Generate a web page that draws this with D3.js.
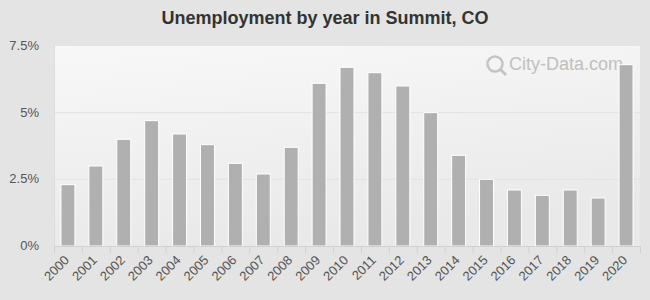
<!DOCTYPE html>
<html>
<head>
<meta charset="utf-8">
<script src="https://cdn.jsdelivr.net/npm/d3@7"></script>
<style>
  body { margin: 0; background: #e4e4e4; }
  svg { display: block; font-family: "Liberation Sans", Arial, sans-serif; }
</style>
</head>
<body>
<div id="chart"></div>
<script>
var years = ["2000","2001","2002","2003","2004","2005","2006","2007","2008","2009","2010",
             "2011","2012","2013","2014","2015","2016","2017","2018","2019","2020"];
var rates = [2.3, 3.0, 4.0, 4.7, 4.2, 3.8, 3.1, 2.7, 3.7, 6.1, 6.7,
             6.5, 6.0, 5.0, 3.4, 2.5, 2.1, 1.9, 2.1, 1.8, 6.8];
var yTicks = [0, 2.5, 5, 7.5];
var yTickLabels = ["0%", "2.5%", "5%", "7.5%"];

var W = 650, H = 300;
var margin = {top: 46, right: 10, bottom: 54, left: 54},
    width = W - margin.left - margin.right,
    height = H - margin.top - margin.bottom;

var svg = d3.select("#chart").append("svg")
  .attr("width", W)
  .attr("height", H);

// plot background gradient
var grad = svg.append("defs").append("linearGradient")
  .attr("id", "bg").attr("x1", 0).attr("y1", 0).attr("x2", 0.3).attr("y2", 1);
grad.append("stop").attr("offset", "0%").attr("stop-color", "#f8f8f8");
grad.append("stop").attr("offset", "100%").attr("stop-color", "#e9e9e9");

svg.append("rect").attr("width", W).attr("height", H).attr("fill", "#e4e4e4");

svg.append("text")
  .attr("x", W / 2).attr("y", 24)
  .attr("text-anchor", "middle")
  .attr("font-size", 18).attr("font-weight", "bold")
  .attr("fill", "#333")
  .text("Unemployment by year in Summit, CO");

var g = svg.append("g")
  .attr("transform", "translate(" + margin.left + "," + margin.top + ")");

g.append("rect")
  .attr("width", width).attr("height", height)
  .attr("fill", "url(#bg)");

var x = d3.scaleBand().domain(years).range([0, width]).paddingInner(0.5).paddingOuter(0.25);
var y = d3.scaleLinear().domain([0, 7.5]).range([height, 0]);

// gridlines
g.selectAll(".grid").data(yTicks.slice(1, 3)).join("line")
  .attr("x1", 0).attr("x2", width)
  .attr("y1", d => y(d)).attr("y2", d => y(d))
  .attr("stroke", "#e2e2e2");

// left edge
g.append("line").attr("x1", 0.5).attr("x2", 0.5).attr("y1", 0).attr("y2", height)
  .attr("stroke", "#dddddd");

// watermark
var wm = g.append("g").attr("transform", "translate(441,18)");
wm.append("circle").attr("cx", 0).attr("cy", 0).attr("r", 7.5)
  .attr("fill", "none").attr("stroke", "#c4c4c4").attr("stroke-width", 2.5);
wm.append("line").attr("x1", 5).attr("y1", 5).attr("x2", 11).attr("y2", 11)
  .attr("stroke", "#c4c4c4").attr("stroke-width", 3);
wm.append("text").attr("x", 14).attr("y", 6)
  .attr("font-size", 18).attr("fill", "#c0c0c0")
  .text("City-Data.com");

// bars
g.selectAll(".bar").data(rates).join("rect")
  .attr("x", (d, i) => x(years[i]))
  .attr("y", d => y(d))
  .attr("width", x.bandwidth())
  .attr("height", d => height - y(d))
  .attr("fill", "#b0b0b0")
  .attr("stroke", "#ffffff")
  .attr("stroke-width", 1);

// x axis
var xAxis = g.append("g")
  .attr("transform", "translate(0," + height + ")")
  .call(d3.axisBottom(x).tickSize(0).tickFormat(""));
xAxis.select(".domain").attr("stroke", "#d0d0d0");

g.selectAll(".xtick").data(d3.range(years.length + 1)).join("line")
  .attr("x1", i => i * width / years.length + 0.5)
  .attr("x2", i => i * width / years.length + 0.5)
  .attr("y1", height).attr("y2", height + 7)
  .attr("stroke", "#d0d0d0");

g.selectAll(".xlabel").data(years).join("text")
  .attr("text-anchor", "end")
  .attr("font-size", 13)
  .attr("fill", "#555")
  .attr("transform", d => "translate(" + (x(d) + x.bandwidth() / 2 + 2) + "," + (height + 15) + ") rotate(-45)")
  .text(d => d);

// y axis labels
g.selectAll(".ylabel").data(yTicks).join("text")
  .attr("x", -15)
  .attr("y", d => y(d) + 4)
  .attr("text-anchor", "end")
  .attr("font-size", 13)
  .attr("fill", "#555")
  .text((d, i) => yTickLabels[i]);
</script>
</body>
</html>
